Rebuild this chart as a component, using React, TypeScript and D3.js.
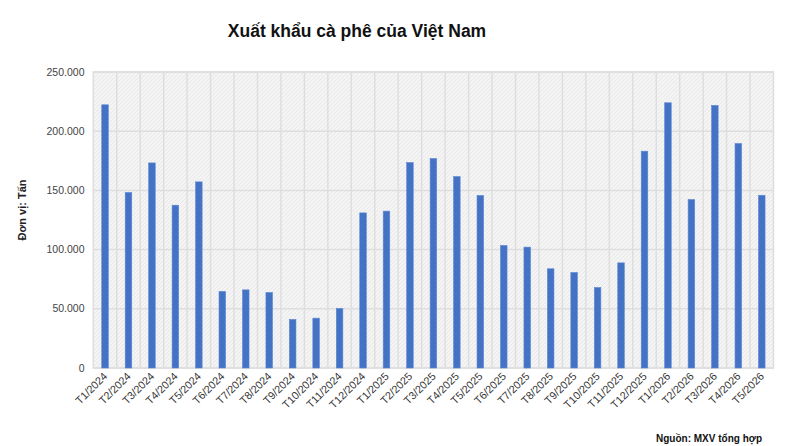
import React from "react";
import * as d3 from "d3";

const categories = [
  "T1/2024", "T2/2024", "T3/2024", "T4/2024", "T5/2024", "T6/2024", "T7/2024", "T8/2024",
  "T9/2024", "T10/2024", "T11/2024", "T12/2024", "T1/2025", "T2/2025", "T3/2025", "T4/2025",
  "T5/2025", "T6/2025", "T7/2025", "T8/2025", "T9/2025", "T10/2025", "T11/2025", "T12/2025",
  "T1/2026", "T2/2026", "T3/2026", "T4/2026", "T5/2026",
];
const exportTons = [
  222300, 148200, 173200, 137500, 157200, 64700, 66000, 63800,
  41000, 42100, 50300, 131000, 132500, 173500, 176900, 161700,
  145700, 103500, 102100, 83800, 80700, 68000, 88800, 183100,
  224000, 142300, 221800, 189600, 145900,
];
const yTicks = [0, 50000, 100000, 150000, 200000, 250000];
const title = "Xuất khẩu cà phê của Việt Nam";
const yLabel = "Đơn vị: Tấn";
const source = "Nguồn: MXV tổng hợp";

const W = 800;
const H = 446;
const plot = { left: 93.3, right: 773.5, top: 72, bottom: 368 };

const fmt = (v: number) => (v === 0 ? "0" : d3.format(",")(v).replace(/,/g, "."));

export default function App() {
  const x = d3.scaleBand<string>().domain(categories).range([plot.left, plot.right]).paddingInner(0.72).paddingOuter(0.36);
  const y = d3.scaleLinear().domain([0, 250000]).range([plot.bottom, plot.top]);
  const step = x.step();
  const gridColor = "#dedede";
  const font = "Arial, 'Liberation Sans', sans-serif";

  return (
    <svg width={W} height={H} style={{ position: "absolute", left: 0, top: 0, background: "#fff" }} fontFamily={font}>
      <defs>
        <pattern id="hatch" width="4" height="4" patternUnits="userSpaceOnUse">
          <rect width="4" height="4" fill="#f4f4f4" />
          <path d="M0,4 L4,0 M-1,1 L1,-1 M3,5 L5,3" stroke="#e4e4e4" strokeWidth="0.8" />
        </pattern>
      </defs>
      <text x={357} y={37} textAnchor="middle" fontSize={17.5} fontWeight="bold" fill="#111">{title}</text>
      <rect x={plot.left} y={plot.top} width={plot.right - plot.left} height={plot.bottom - plot.top} fill="url(#hatch)" stroke={gridColor} strokeWidth={1.5} />
      {categories.map((c, i) => (
        i === 0 ? null : (
          <line key={"v" + c} x1={plot.left + i * step} x2={plot.left + i * step} y1={plot.top} y2={plot.bottom} stroke={gridColor} strokeWidth={1.5} />
        )
      ))}
      {yTicks.map((t) => (
        <g key={t}>
          <line x1={plot.left} x2={plot.right} y1={y(t)} y2={y(t)} stroke={gridColor} strokeWidth={1.5} />
          <text x={84.5} y={y(t)} dy="0.35em" textAnchor="end" fontSize={10.5} fill="#444">{fmt(t)}</text>
        </g>
      ))}
      {exportTons.map((v, i) => (
        <rect key={categories[i]} x={x(categories[i])!} y={y(v)} width={x.bandwidth()} height={y(0) - y(v)} fill="#4472c4" stroke="#5b86d4" strokeWidth={0.6} />
      ))}
      {categories.map((c) => {
        const cx = x(c)! + x.bandwidth() / 2 + 3;
        const cy = plot.bottom + 9;
        return (
          <text key={"l" + c} x={cx} y={cy} textAnchor="end" fontSize={10.8} fill="#333" transform={`rotate(-45, ${cx}, ${cy})`}>{c}</text>
        );
      })}
      <text x={22} y={210} textAnchor="middle" fontSize={11} fontWeight="bold" fill="#222" transform="rotate(-90, 22, 210)" dy="0.35em">{yLabel}</text>
      <text x={762} y={442} textAnchor="end" fontSize={10} fontWeight="bold" fill="#111">{source}</text>
    </svg>
  );
}
